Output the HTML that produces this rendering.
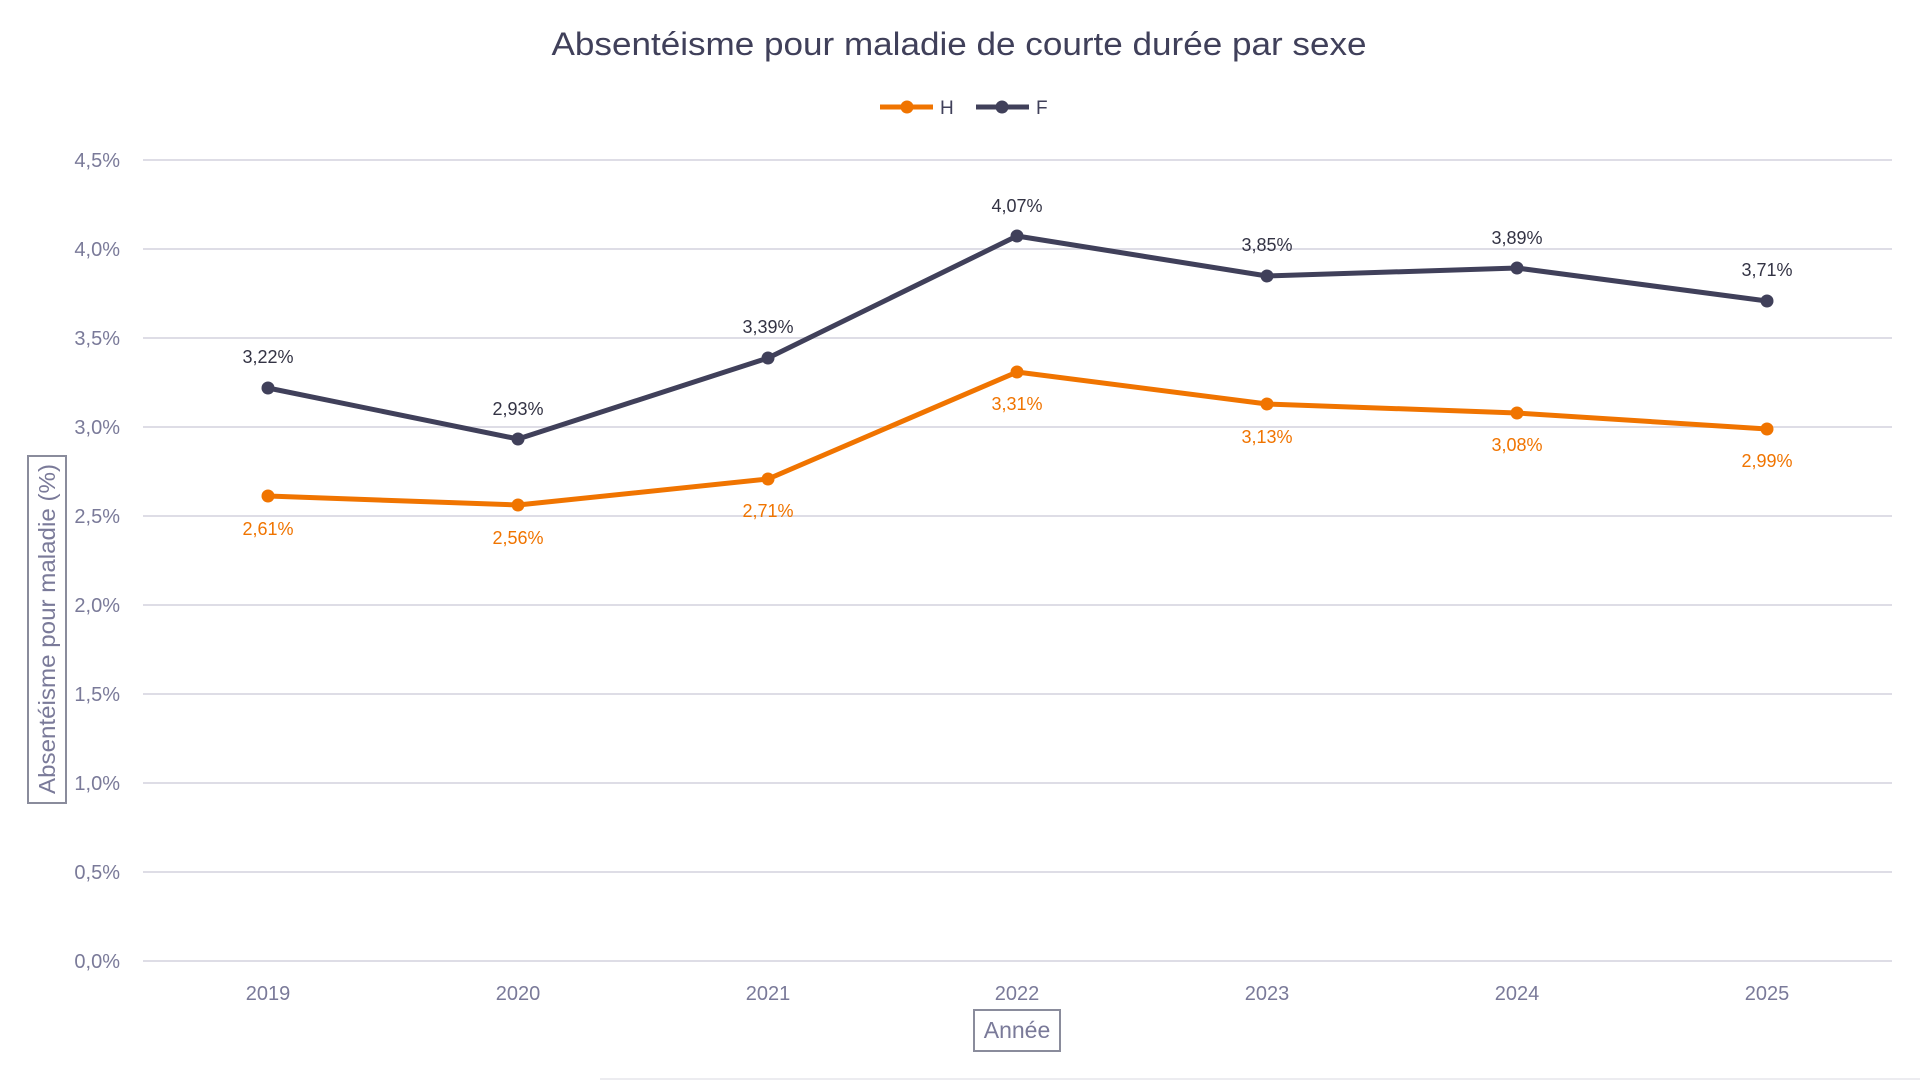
<!DOCTYPE html>
<html><head><meta charset="utf-8"><style>html,body{margin:0;padding:0;background:#fff;}svg{display:block;font-family:"Liberation Sans",sans-serif;}</style></head>
<body>
<svg width="1920" height="1080" viewBox="0 0 1920 1080">
<text x="959" y="55" text-anchor="middle" font-size="32" fill="#40405a" textLength="815" lengthAdjust="spacingAndGlyphs">Absentéisme pour maladie de courte durée par sexe</text>
<g>
<line x1="880" y1="107" x2="933" y2="107" stroke="#f07400" stroke-width="5"/><circle cx="907" cy="107" r="6.5" fill="#f07400"/>
<text x="940" y="114" font-size="19" fill="#40405a">H</text>
<line x1="976" y1="107" x2="1029" y2="107" stroke="#40405a" stroke-width="5"/><circle cx="1002" cy="107" r="6.5" fill="#40405a"/>
<text x="1036" y="114" font-size="19" fill="#40405a">F</text>
</g>
<g stroke="#dedde6" stroke-width="2">
<line x1="143" y1="160" x2="1892" y2="160"/><line x1="143" y1="249" x2="1892" y2="249"/><line x1="143" y1="338" x2="1892" y2="338"/><line x1="143" y1="427" x2="1892" y2="427"/><line x1="143" y1="516" x2="1892" y2="516"/><line x1="143" y1="605" x2="1892" y2="605"/><line x1="143" y1="694" x2="1892" y2="694"/><line x1="143" y1="783" x2="1892" y2="783"/><line x1="143" y1="872" x2="1892" y2="872"/><line x1="143" y1="961" x2="1892" y2="961"/>
</g>
<g font-size="20" fill="#7a7a99" text-anchor="end">
<text x="120" y="167">4,5%</text><text x="120" y="256">4,0%</text><text x="120" y="345">3,5%</text><text x="120" y="434">3,0%</text><text x="120" y="523">2,5%</text><text x="120" y="612">2,0%</text><text x="120" y="701">1,5%</text><text x="120" y="790">1,0%</text><text x="120" y="879">0,5%</text><text x="120" y="968">0,0%</text>
</g>
<g font-size="20" fill="#7a7a99" text-anchor="middle">
<text x="268" y="1000">2019</text><text x="518" y="1000">2020</text><text x="768" y="1000">2021</text><text x="1017" y="1000">2022</text><text x="1267" y="1000">2023</text><text x="1517" y="1000">2024</text><text x="1767" y="1000">2025</text>
</g>
<rect x="974" y="1010" width="86" height="41" fill="none" stroke="#8a8c9c" stroke-width="2"/>
<text x="1017" y="1038" text-anchor="middle" font-size="23" fill="#7a7a99">Année</text>
<rect x="28" y="456" width="38" height="347" fill="none" stroke="#8a8c9c" stroke-width="2"/>
<text transform="translate(55,629) rotate(-90)" text-anchor="middle" font-size="23" fill="#7a7a99" textLength="330" lengthAdjust="spacingAndGlyphs">Absentéisme pour maladie (%)</text>
<line x1="600" y1="1079" x2="1920" y2="1079" stroke="#ececf0" stroke-width="2"/>
<polyline fill="none" stroke="#40405a" stroke-width="5" stroke-linejoin="round" points="268,388 518,439 768,358 1017,236 1267,276 1517,268 1767,301"/>
<polyline fill="none" stroke="#f07400" stroke-width="5" stroke-linejoin="round" points="268,496 518,505 768,479 1017,372 1267,404 1517,413 1767,429"/>
<g fill="#40405a"><circle cx="268" cy="388" r="6.5"/><circle cx="518" cy="439" r="6.5"/><circle cx="768" cy="358" r="6.5"/><circle cx="1017" cy="236" r="6.5"/><circle cx="1267" cy="276" r="6.5"/><circle cx="1517" cy="268" r="6.5"/><circle cx="1767" cy="301" r="6.5"/></g>
<g fill="#f07400"><circle cx="268" cy="496" r="6.5"/><circle cx="518" cy="505" r="6.5"/><circle cx="768" cy="479" r="6.5"/><circle cx="1017" cy="372" r="6.5"/><circle cx="1267" cy="404" r="6.5"/><circle cx="1517" cy="413" r="6.5"/><circle cx="1767" cy="429" r="6.5"/></g>
<g font-size="18" fill="#333344" text-anchor="middle">
<text x="268" y="363">3,22%</text><text x="518" y="415">2,93%</text><text x="768" y="333">3,39%</text><text x="1017" y="212">4,07%</text><text x="1267" y="251">3,85%</text><text x="1517" y="244">3,89%</text><text x="1767" y="276">3,71%</text>
</g>
<g font-size="18" fill="#f07400" text-anchor="middle">
<text x="268" y="535">2,61%</text><text x="518" y="544">2,56%</text><text x="768" y="517">2,71%</text><text x="1017" y="410">3,31%</text><text x="1267" y="443">3,13%</text><text x="1517" y="451">3,08%</text><text x="1767" y="467">2,99%</text>
</g>
</svg>
</body></html>
